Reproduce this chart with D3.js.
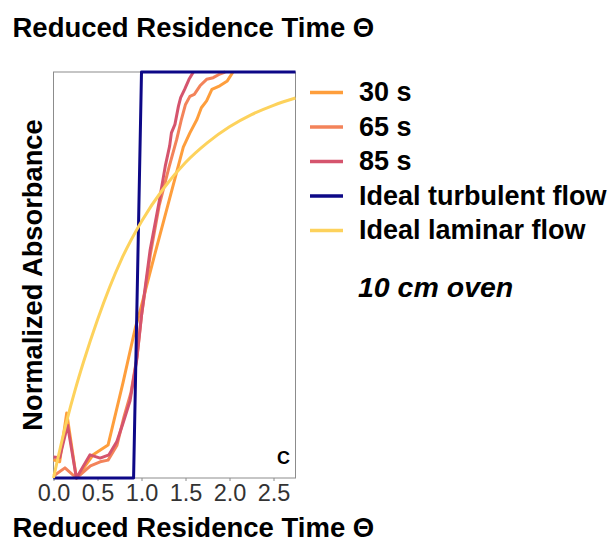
<!DOCTYPE html>
<html>
<head>
<meta charset="utf-8">
<script src="https://cdn.jsdelivr.net/npm/d3@7"></script>
<style>
  html, body { margin: 0; padding: 0; background: #ffffff; }
  svg { display: block; font-family: "Liberation Sans", Arial, Helvetica, sans-serif; }
</style>
</head>
<body>
<svg id="chart" width="616" height="544"></svg>
<script>
// ---------- data ----------
const seriesNames = ["30 s", "65 s", "85 s", "Ideal turbulent flow", "Ideal laminar flow"];
const seriesColors = ["#FE9E3C", "#F3835A", "#D5546D", "#0D0887", "#FDD25C"];

const theta30 = [0, 0.07, 0.15, 0.26, 0.45, 0.62, 0.79, 0.93, 0.97, 1.15, 1.42, 1.475, 1.55, 1.63, 1.68, 1.74, 1.80, 1.89, 1.975, 2.04];
const abs30   = [0.045, 0.04, 0.16, 0.0, 0.057, 0.081, 0.235, 0.37, 0.40, 0.55, 0.77, 0.815, 0.85, 0.883, 0.912, 0.929, 0.957, 0.966, 0.978, 1.0];

const theta65 = [0, 0.13, 0.26, 0.42, 0.53, 0.62, 0.72, 0.80, 0.88, 0.95, 1.0, 1.10, 1.20, 1.316, 1.40, 1.45, 1.50, 1.55, 1.60, 1.665, 1.74, 1.815, 1.89, 1.95];
const abs65   = [0.005, 0.025, 0.0, 0.03, 0.04, 0.044, 0.08, 0.15, 0.21, 0.30, 0.40, 0.55, 0.67, 0.768, 0.834, 0.88, 0.92, 0.94, 0.945, 0.966, 0.982, 0.986, 0.995, 1.0];

const theta85 = [0, 0.07, 0.16, 0.26, 0.415, 0.53, 0.63, 0.72, 0.79, 0.87, 0.945, 1.0, 1.097, 1.20, 1.27, 1.32, 1.34, 1.38, 1.42, 1.445, 1.49, 1.54, 1.59];
const abs85   = [0.052, 0.05, 0.13, 0.0, 0.057, 0.049, 0.057, 0.09, 0.135, 0.19, 0.29, 0.40, 0.56, 0.68, 0.768, 0.818, 0.85, 0.871, 0.916, 0.937, 0.957, 0.982, 1.0];

const thetaTurb = [0, 0.91, 1.0, 2.75];
const absTurb   = [0, 0, 1, 1];

const thetaLam = [0, 0.15, 0.25, 0.34, 0.5, 0.775, 1.0, 1.25, 1.5, 1.75, 2.0, 2.25, 2.5, 2.75];
const absLam   = [0, 0.14, 0.22, 0.285, 0.39, 0.54, 0.632, 0.713, 0.777, 0.826, 0.865, 0.895, 0.918, 0.936];

const xTicks = [0, 0.5, 1.0, 1.5, 2.0, 2.5];
const xTickLabels = ["0.0", "0.5", "1.0", "1.5", "2.0", "2.5"];

const titleText = "Reduced Residence Time Θ";
const yTitleText = "Normalized Absorbance";
const panelTag = "C";
const noteText = "10 cm oven";

// ---------- layout ----------
const svg = d3.select("#chart");
const panel = { left: 53.5, right: 295.5, top: 72, bottom: 478 };

const x = d3.scaleLinear().domain([0, 2.75]).range([panel.left, panel.right]);
const y = d3.scaleLinear().domain([0, 1]).range([panel.bottom, panel.top]);

const FONT = '"Liberation Sans", Arial, Helvetica, sans-serif';

// top title
svg.append("text")
  .attr("x", 12.5).attr("y", 36.5)
  .attr("font-size", 27.5).attr("font-weight", "bold").attr("fill", "#000")
  .text(titleText);

// bottom title
svg.append("text")
  .attr("x", 12.5).attr("y", 537)
  .attr("font-size", 27.5).attr("font-weight", "bold").attr("fill", "#000")
  .text(titleText);

// y title
svg.append("text")
  .attr("transform", `translate(42,${(panel.top + panel.bottom) / 2}) rotate(-90)`)
  .attr("text-anchor", "middle")
  .attr("font-size", 27.3).attr("font-weight", "bold").attr("fill", "#000")
  .text(yTitleText);

// panel border
svg.append("rect")
  .attr("x", panel.left).attr("y", panel.top)
  .attr("width", panel.right - panel.left).attr("height", panel.bottom - panel.top)
  .attr("fill", "none").attr("stroke", "#8c8c8c").attr("stroke-width", 1);

// x axis
const xAxis = d3.axisBottom(x)
  .tickValues(xTicks)
  .tickFormat((d, i) => xTickLabels[i])
  .tickSize(3).tickPadding(3);
const gx = svg.append("g").attr("transform", `translate(0,${panel.bottom})`).call(xAxis);
gx.select(".domain").remove();
gx.selectAll(".tick line").attr("stroke", "#8c8c8c");
gx.selectAll(".tick text")
  .attr("font-family", FONT).attr("font-size", 23.5).attr("fill", "#333")
  .attr("dy", null).attr("y", 22.5);

// lines
const series = [
  { th: theta30, v: abs30 },
  { th: theta65, v: abs65 },
  { th: theta85, v: abs85 },
  { th: thetaTurb, v: absTurb },
  { th: thetaLam, v: absLam, smooth: true }
];

series.forEach((s, i) => {
  const pts = s.th.map((t, k) => [t, s.v[k]]);
  const line = d3.line().x(d => x(d[0])).y(d => y(d[1]))
    .curve(s.smooth ? d3.curveMonotoneX : d3.curveLinear);
  svg.append("path")
    .attr("d", line(pts))
    .attr("fill", "none")
    .attr("stroke", seriesColors[i])
    .attr("stroke-width", 3)
    .attr("stroke-linejoin", "round")
    .attr("stroke-linecap", "butt");
});

// panel tag
svg.append("text")
  .attr("x", 290).attr("y", 464)
  .attr("text-anchor", "end")
  .attr("font-size", 18).attr("font-weight", "bold").attr("fill", "#000")
  .text(panelTag);

// legend
const legendY0 = 92.5, legendStep = 34.5;
const lg = svg.append("g");
seriesNames.forEach((name, i) => {
  const yy = legendY0 + i * legendStep;
  lg.append("line")
    .attr("x1", 310).attr("x2", 343)
    .attr("y1", yy).attr("y2", yy)
    .attr("stroke", seriesColors[i]).attr("stroke-width", 3.5);
  lg.append("text")
    .attr("x", 359).attr("y", yy + 8.5)
    .attr("font-size", 27).attr("font-weight", "bold").attr("fill", "#000")
    .text(name);
});

// note
svg.append("text")
  .attr("x", 358).attr("y", 297)
  .attr("font-size", 28.5).attr("font-weight", "bold").attr("font-style", "italic").attr("fill", "#000")
  .text(noteText);
</script>
</body>
</html>
